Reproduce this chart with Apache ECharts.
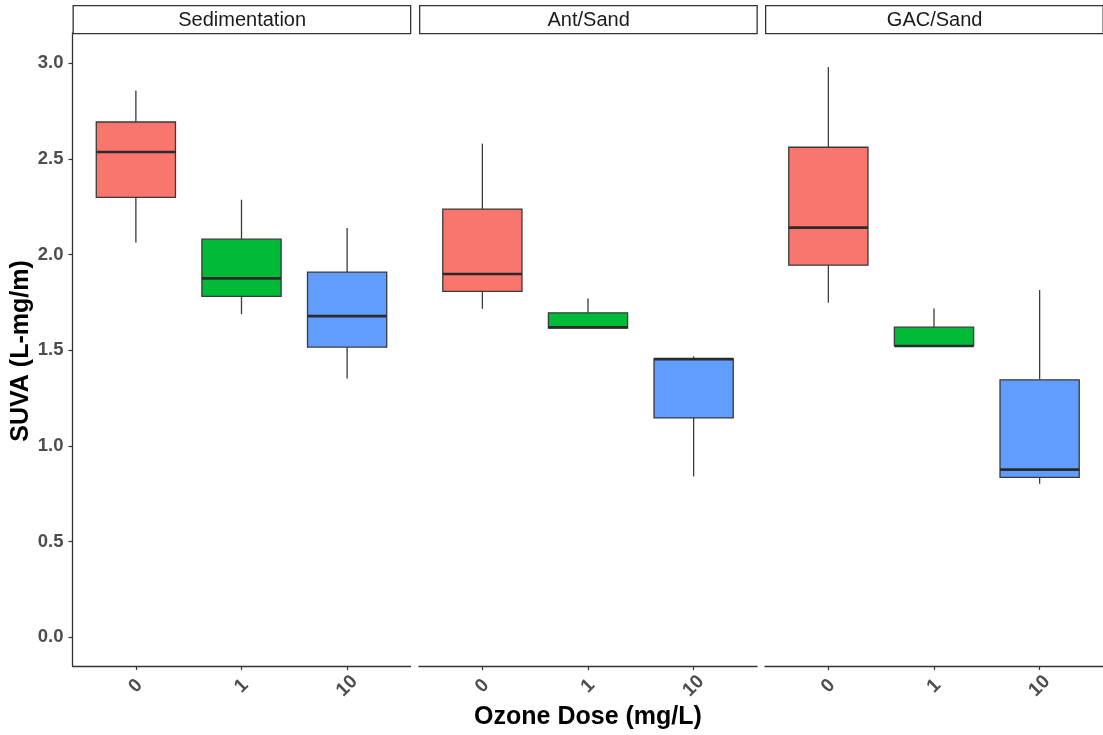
<!DOCTYPE html>
<html>
<head>
<meta charset="utf-8">
<title>SUVA by ozone dose</title>
<script src="https://cdn.jsdelivr.net/npm/echarts@6/dist/echarts.min.js"></script>
<style>
  html, body { margin: 0; padding: 0; background: #ffffff; }
  #chart { width: 1103px; height: 735px; }
</style>
</head>
<body>
<div id="chart"></div>
<script>
// Facet names and x categories
const panels = ['Sedimentation', 'Ant/Sand', 'GAC/Sand'];
const doses = ['0', '1', '10'];
const yTicks = [0, 0.5, 1.0, 1.5, 2.0, 2.5, 3.0];

// Box statistics per dose: [lower whisker, Q1, median, Q3, upper whisker]
const sedimentation = [
  [2.063, 2.298, 2.535, 2.692, 2.856],
  [1.688, 1.781, 1.875, 2.080, 2.286],
  [1.352, 1.516, 1.678, 1.908, 2.138]
];
const antSand = [
  [1.716, 1.807, 1.898, 2.237, 2.579],
  [1.615, 1.615, 1.620, 1.695, 1.770],
  [0.840, 1.146, 1.453, 1.456, 1.467]
];
const gacSand = [
  [1.748, 1.944, 2.140, 2.560, 2.979],
  [1.522, 1.522, 1.522, 1.620, 1.718],
  [0.802, 0.835, 0.876, 1.345, 1.814]
];
const panelStats = [sedimentation, antSand, gacSand];

const fills = ['#F8766D', '#00BA38', '#619CFF'];

const chart = echarts.init(document.getElementById('chart'), null, { renderer: 'canvas' });

const FONT = '"Liberation Sans", Arial, Helvetica, sans-serif';
const gridTop = 33, gridHeight = 633;
const panelLefts = [72.5, 419, 765];
const panelWidth = 338;
const yMin = -0.15, yMax = 3.157;
const boxHalf = 0.375;

function renderBox(params, api) {
  const x = api.value(0);
  const lo = api.value(1), q1 = api.value(2), med = api.value(3), q3 = api.value(4), hi = api.value(5);
  const tl = api.coord([x - boxHalf, q3]);
  const br = api.coord([x + boxHalf, q1]);
  const cHi = api.coord([x, hi]);
  const cQ3 = api.coord([x, q3]);
  const cQ1 = api.coord([x, q1]);
  const cLo = api.coord([x, lo]);
  const mL = api.coord([x - boxHalf, med]);
  const mR = api.coord([x + boxHalf, med]);
  const lineStyle = { stroke: '#3a3a3a', lineWidth: 1.3 };
  return {
    type: 'group',
    children: [
      { type: 'line', shape: { x1: cHi[0], y1: cHi[1], x2: cQ3[0], y2: cQ3[1] }, style: lineStyle },
      { type: 'line', shape: { x1: cQ1[0], y1: cQ1[1], x2: cLo[0], y2: cLo[1] }, style: lineStyle },
      {
        type: 'rect',
        shape: { x: tl[0], y: tl[1], width: br[0] - tl[0], height: br[1] - tl[1] },
        style: { fill: fills[params.dataIndex], stroke: '#3a3a3a', lineWidth: 1.3 }
      },
      { type: 'line', shape: { x1: mL[0], y1: mL[1], x2: mR[0], y2: mR[1] }, style: { stroke: '#2b2b2b', lineWidth: 2.6 } }
    ]
  };
}

const grids = [], xAxes = [], yAxes = [], series = [], graphics = [];
panels.forEach((name, i) => {
  grids.push({ left: panelLefts[i], top: gridTop, width: panelWidth, height: gridHeight, containLabel: false });
  xAxes.push({
    type: 'value', gridIndex: i, min: 0.4, max: 3.6,
    splitLine: { show: false },
    axisLine: { show: true, onZero: false, lineStyle: { color: '#333333', width: 1.3 } },
    axisTick: { show: true, length: 4, customValues: [1, 2, 3], lineStyle: { color: '#333333', width: 1.2 } },
    axisLabel: {
      customValues: [1, 2, 3],
      formatter: v => doses[Math.round(v) - 1],
      rotate: 45, align: 'center', verticalAlign: 'middle', margin: 20,
      fontFamily: FONT, fontWeight: 'bold', fontSize: 19, color: '#4d4d4d'
    }
  });
  yAxes.push({
    type: 'value', gridIndex: i, min: yMin, max: yMax,
    splitLine: { show: false },
    axisLine: { show: i === 0, onZero: false, lineStyle: { color: '#333333', width: 1.3 } },
    axisTick: { show: i === 0, length: 4, customValues: yTicks, lineStyle: { color: '#333333', width: 1.2 } },
    axisLabel: {
      show: i === 0, customValues: yTicks, margin: 9,
      formatter: v => v.toFixed(1),
      fontFamily: FONT, fontWeight: 'bold', fontSize: 18.5, color: '#4d4d4d'
    }
  });
  series.push({
    type: 'custom', xAxisIndex: i, yAxisIndex: i,
    renderItem: renderBox,
    encode: { x: 0, y: [1, 2, 3, 4, 5] },
    data: panelStats[i].map((s, j) => [j + 1].concat(s))
  });
  // Facet strip header
  graphics.push({
    type: 'group',
    left: panelLefts[i], top: 5,
    children: [
      {
        type: 'rect',
        shape: { x: 0, y: 0, width: panelWidth - 0.5, height: 28 },
        style: { fill: '#ffffff', stroke: '#333333', lineWidth: 1.3 }
      },
      {
        type: 'text',
        x: panelWidth / 2, y: 14.5,
        style: {
          text: name, fontFamily: FONT, fontSize: 20, fill: '#1a1a1a',
          align: 'center', verticalAlign: 'middle'
        }
      }
    ]
  });
});

// Axis titles
graphics.push({
  type: 'text', x: 588, y: 717,
  style: {
    text: 'Ozone Dose (mg/L)', fontFamily: FONT, fontWeight: 'bold', fontSize: 25,
    fill: '#000000', align: 'center', verticalAlign: 'middle'
  }
});
graphics.push({
  type: 'text', x: 21, y: 351, rotation: Math.PI / 2,
  style: {
    text: 'SUVA (L-mg/m)', fontFamily: FONT, fontWeight: 'bold', fontSize: 25,
    fill: '#000000', align: 'center', verticalAlign: 'middle'
  }
});

chart.setOption({
  animation: false,
  backgroundColor: '#ffffff',
  grid: grids,
  xAxis: xAxes,
  yAxis: yAxes,
  series: series,
  graphic: graphics
});
</script>
</body>
</html>
